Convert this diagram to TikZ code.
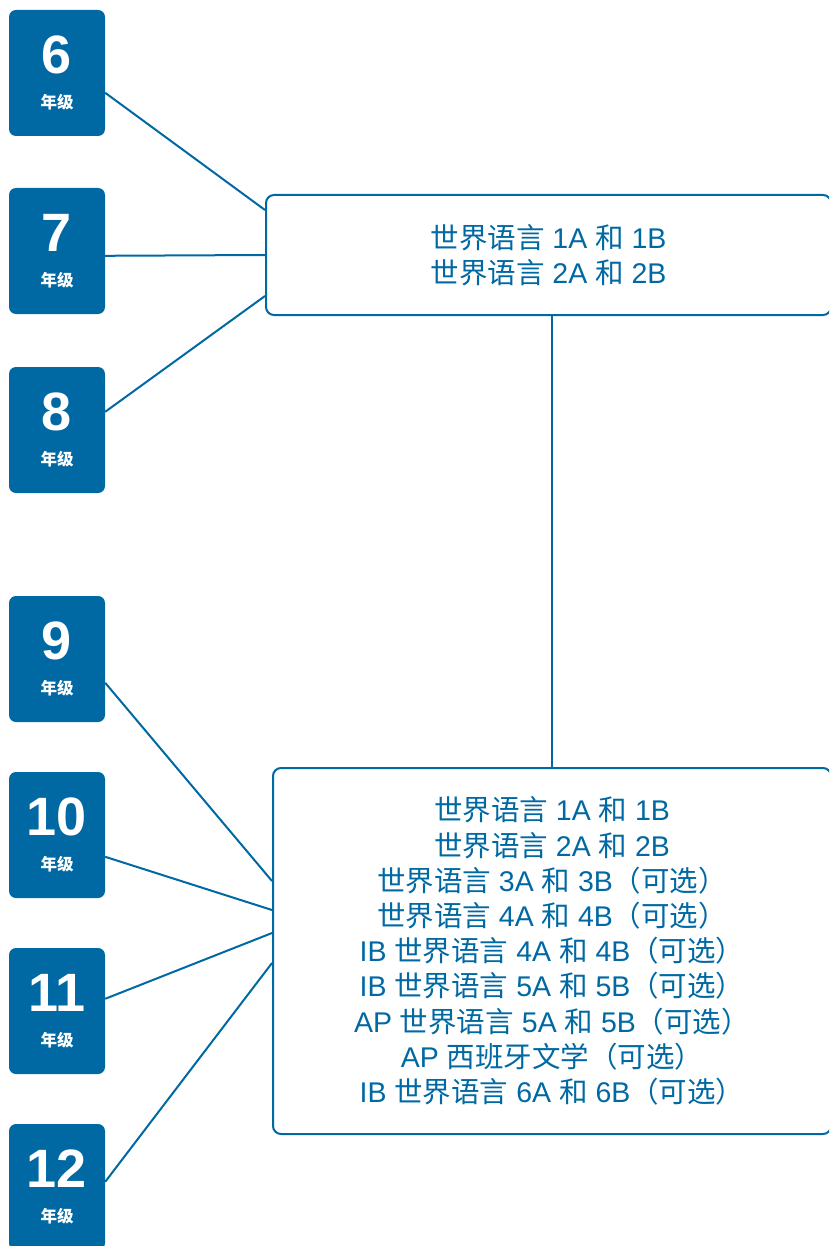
\documentclass[tikz,border=0pt]{standalone}
\usepackage{fontspec}
\setmainfont{Liberation Sans}
\newfontfamily\cjk{Noto Sans CJK SC}
\usetikzlibrary{calc}
\definecolor{ibblue}{RGB}{0,104,163}
\begin{document}
\begin{tikzpicture}[x=1pt,y=-1pt,
  grade/.style={fill=ibblue, rounded corners=7pt, minimum width=96pt, minimum height=126pt, inner sep=0pt},
  num/.style={text=white, font=\fontsize{54}{54}\selectfont\bfseries, inner sep=0pt},
  lab/.style={text=white, font=\cjk\bfseries\fontsize{16.5}{16.5}\selectfont, inner sep=0pt},
  course/.style={draw=ibblue, line width=2pt, rounded corners=8pt, text=ibblue, align=center, font=\fontsize{28.5}{35.2}\selectfont, inner sep=0pt},
  link/.style={draw=ibblue, line width=2pt}]
\useasboundingbox (0,0) rectangle (829,1246);
\clip (0,0) rectangle (829,1246);

% grade boxes
\foreach \g/\t in {6/10, 7/188, 8/367, 9/596, 10/772, 11/948, 12/1124}{
  \node[grade] (g\g) at (57,\t+63) {};
  \node[num] (n\g) at ($(g\g.north)+(0,45)$) {\g};
  \node[lab] (l\g) at ($(g\g.north)+(0,92)$) {年级};
}

% course boxes
\node[course, minimum width=565pt, minimum height=120pt] (top) at (548.5,255)
  {{\cjk 世界语言} 1A {\cjk 和} 1B\\ {\cjk 世界语言} 2A {\cjk 和} 2B};
\node[course, minimum width=558pt, minimum height=366pt] (bot) at (552,951)
  {{\cjk 世界语言} 1A {\cjk 和} 1B\\
   {\cjk 世界语言} 2A {\cjk 和} 2B\\
   {\cjk 世界语言} 3A {\cjk 和} 3B{\cjk （可选）}\\
   {\cjk 世界语言} 4A {\cjk 和} 4B{\cjk （可选）}\\
   IB {\cjk 世界语言} 4A {\cjk 和} 4B{\cjk （可选）}\\
   IB {\cjk 世界语言} 5A {\cjk 和} 5B{\cjk （可选）}\\
   AP {\cjk 世界语言} 5A {\cjk 和} 5B{\cjk （可选）}\\
   AP {\cjk 西班牙文学（可选）}\\
   IB {\cjk 世界语言} 6A {\cjk 和} 6B{\cjk （可选）}};

% connectors
\draw[link] ($(g6.north east)+(0,83)$) -- ($(top.north west)+(0,16)$);
\draw[link] ($(g7.north east)+(0,68)$) -- ($(top.north west)+(0,61)$);
\draw[link] ($(g8.north east)+(0,45)$) -- ($(top.north west)+(0,102)$);
\draw[link] ($(g9.north east)+(0,87)$) -- ($(bot.north west)+(0,114)$);
\draw[link] ($(g10.north east)+(0,85)$) -- ($(bot.north west)+(0,143)$);
\draw[link] ($(g11.north east)+(0,51)$) -- ($(bot.north west)+(0,166)$);
\draw[link] ($(g12.north east)+(0,58)$) -- ($(bot.north west)+(0,196)$);
\draw[link] (top.south -| bot.north) -- (bot.north);
\end{tikzpicture}
\end{document}
